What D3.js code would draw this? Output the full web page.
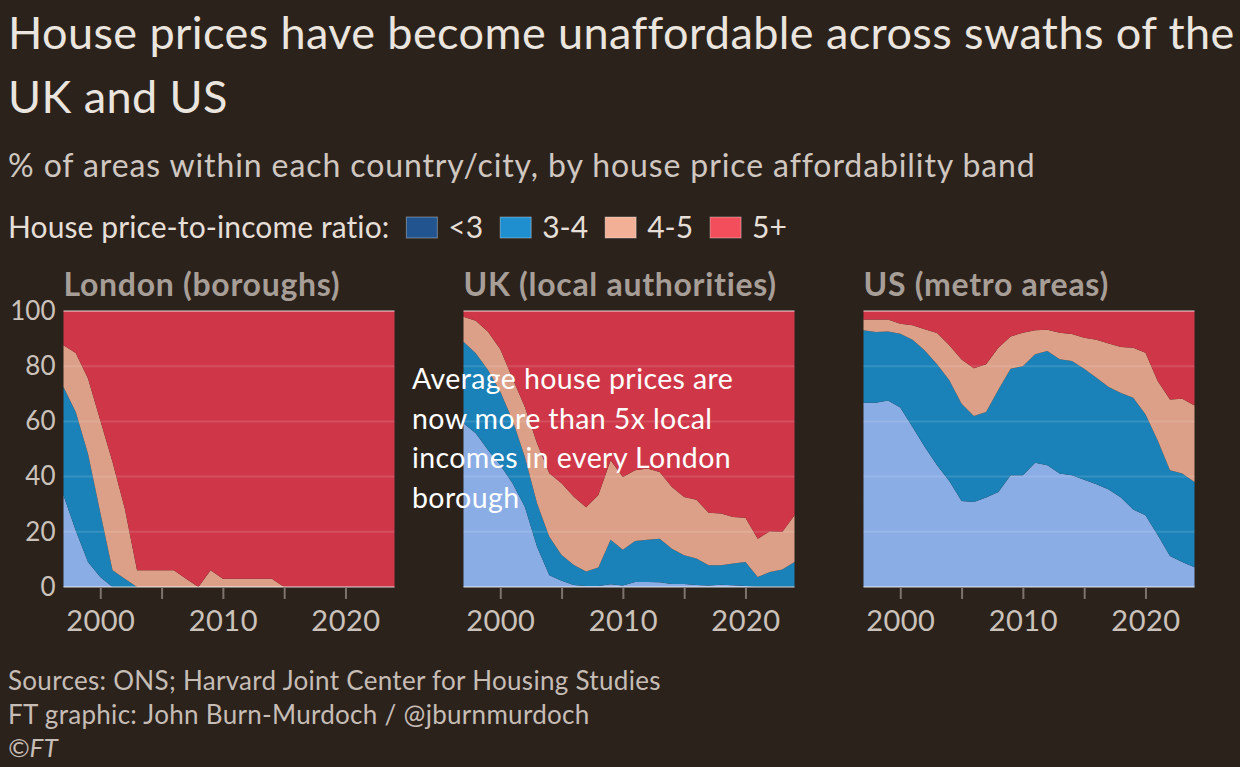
<!DOCTYPE html>
<html>
<head>
<meta charset="utf-8">
<title>House price affordability</title>
<script src="https://cdn.jsdelivr.net/npm/d3@7"></script>
<style>
    body { margin: 0; background: #2b221c; }
    svg text { font-family: Lato, "Open Sans", sans-serif; }
</style>
</head>
<body>
<svg id="chart" width="1240" height="767"></svg>
<script>
// --- data (share of areas in each band, %) ---
const years = [1997, 1998, 1999, 2000, 2001, 2002, 2003, 2004, 2005, 2006, 2007, 2008, 2009, 2010,
               2011, 2012, 2013, 2014, 2015, 2016, 2017, 2018, 2019, 2020, 2021, 2022, 2023, 2024];

const bandKeys = ["<3", "3-4", "4-5", "5+"];

const londonUnder3 = [33.2, 20.5, 9.1, 3.6, 0, 0, 0, 0, 0, 0, 0, 0, 0, 0, 0, 0, 0, 0, 0, 0, 0, 0, 0, 0, 0, 0, 0, 0];
const london3to4   = [39.3, 42.9, 39.2, 23.4, 6.1, 3.0, 0, 0, 0, 0, 0, 0, 0, 0, 0, 0, 0, 0, 0, 0, 0, 0, 0, 0, 0, 0, 0, 0];
const london4to5   = [15.1, 21.4, 27.2, 33.4, 39.2, 25.4, 6.1, 6.1, 6.1, 6.1, 3.0, 0, 6.1, 3.0, 3.0, 3.0, 3.0, 3.0, 0, 0, 0, 0, 0, 0, 0, 0, 0, 0];
const london5plus  = [12.4, 15.2, 24.5, 39.6, 54.7, 71.6, 93.9, 93.9, 93.9, 93.9, 97.0, 100, 93.9, 97.0, 97.0, 97.0, 97.0, 97.0, 100, 100, 100, 100, 100, 100, 100, 100, 100, 100];

const ukUnder3 = [59.3, 55.7, 49.6, 44.2, 37.6, 29.1, 14.6, 4.3, 2.3, 0.7, 0.4, 0.4, 1.0, 0.5, 1.8, 1.8, 1.7, 1.1, 1.1, 0.7, 0.5, 0.8, 0.6, 0.4, 0.1, 0.1, 0.1, 0.1];
const uk3to4   = [29.6, 29.0, 29.0, 26.6, 22.9, 18.1, 15.7, 13.9, 9.3, 7.3, 5.2, 6.7, 16.1, 13.0, 14.9, 15.3, 15.8, 12.8, 10.4, 9.6, 7.4, 7.1, 7.9, 8.7, 3.5, 5.3, 6.2, 9.0];
const uk4to5   = [9.0, 11.8, 13.9, 15.3, 15.1, 18.1, 21.8, 23.0, 26.0, 24.7, 23.3, 26.2, 28.8, 26.4, 25.6, 25.8, 24.2, 22.3, 21.1, 21.3, 19.0, 18.7, 16.9, 16.0, 13.9, 14.8, 13.6, 16.9];
const uk5plus  = [2.1, 3.5, 7.5, 13.9, 24.4, 34.7, 47.9, 58.8, 62.4, 67.3, 71.1, 66.7, 54.1, 60.1, 57.7, 57.1, 58.3, 63.8, 67.4, 68.4, 73.1, 73.4, 74.6, 74.9, 82.5, 79.8, 80.1, 74.0];

const usUnder3 = [66.8, 66.8, 67.6, 65.0, 58.0, 50.7, 44.1, 38.4, 31.2, 30.8, 32.4, 34.4, 40.5, 40.5, 45.0, 44.1, 41.1, 40.5, 38.9, 37.2, 35.3, 32.4, 28.1, 26.0, 18.8, 11.2, 9.1, 7.2];
const us3to4   = [26.2, 25.6, 25.0, 26.8, 31.6, 35.0, 36.6, 36.5, 35.2, 31.2, 31.0, 37.1, 38.6, 39.5, 39.3, 41.4, 41.4, 41.4, 40.2, 38.6, 37.2, 37.9, 40.5, 36.6, 34.3, 31.1, 32.0, 30.8];
const us4to5   = [3.9, 4.5, 4.3, 3.6, 5.2, 7.7, 11.3, 12.7, 16.0, 17.3, 17.3, 15.2, 11.7, 12.1, 8.7, 7.7, 9.6, 9.8, 11.2, 13.8, 15.7, 16.7, 18.1, 22.3, 21.5, 25.6, 27.1, 27.8];
const us5plus  = [3.1, 3.1, 3.1, 4.6, 5.2, 6.6, 8.0, 12.4, 17.6, 20.7, 19.3, 13.3, 9.2, 7.9, 7.0, 6.8, 7.9, 8.3, 9.7, 10.4, 11.8, 13.0, 13.3, 15.1, 25.4, 32.1, 31.8, 34.2];

const panelTitles = ["London (boroughs)", "UK (local authorities)", "US (metro areas)"];
const yTicks = [0, 20, 40, 60, 80, 100];
const xTicks = [2000, 2005, 2010, 2015, 2020];
const xTickLabels = [2000, 2010, 2020];

const annotation = ["Average house prices are", "now more than 5x local", "incomes in every London", "borough"];
const footer = ["Sources: ONS; Harvard Joint Center for Housing Studies",
                "FT graphic: John Burn-Murdoch / @jburnmurdoch"];

// --- styling ---
const areaColors = { "<3": "#8aade5", "3-4": "#1a82b8", "4-5": "#dba087", "5+": "#cf3748" };
const legendColors = { "<3": "#22558f", "3-4": "#1f8fd0", "4-5": "#f2b096", "5+": "#f24e5c" };

const svg = d3.select("#chart");

function buildRows(a, b, c, d) {
    return years.map((yr, i) => ({ year: yr, "<3": a[i], "3-4": b[i], "4-5": c[i], "5+": d[i] }));
}

const panels = [
    { title: panelTitles[0], rows: buildRows(londonUnder3, london3to4, london4to5, london5plus), left: 63.5 },
    { title: panelTitles[1], rows: buildRows(ukUnder3, uk3to4, uk4to5, uk5plus), left: 463.5 },
    { title: panelTitles[2], rows: buildRows(usUnder3, us3to4, us4to5, us5plus), left: 863.5 }
];

const panelWidth = 331, plotTop = 311, plotBottom = 587;
const y = d3.scaleLinear().domain([0, 100]).range([plotBottom, plotTop]);
const stack = d3.stack().keys(bandKeys);

// header
svg.append("text").attr("x", 8).attr("y", 49).attr("font-size", 45).attr("letter-spacing", 0.4)
    .attr("fill", "#ebe5df")
    .text("House prices have become unaffordable across swaths of the");
svg.append("text").attr("x", 8).attr("y", 113).attr("font-size", 45).attr("letter-spacing", 0.4)
    .attr("fill", "#ebe5df")
    .text("UK and US");
svg.append("text").attr("x", 8).attr("y", 177).attr("font-size", 32).attr("letter-spacing", 0.9)
    .attr("fill", "#cfc7c0")
    .text("% of areas within each country/city, by house price affordability band");

// legend
const legend = svg.append("g");
const legendTitle = legend.append("text").attr("x", 8).attr("y", 238).attr("font-size", 30)
    .attr("letter-spacing", 0.1).attr("fill", "#e6dfd8").text("House price-to-income ratio:");
let lx = 8 + legendTitle.node().getComputedTextLength() + 17;
bandKeys.forEach(k => {
    legend.append("rect").attr("x", lx).attr("y", 217).attr("width", 31).attr("height", 21)
        .attr("fill", legendColors[k]).attr("stroke", "rgba(255,255,255,0.35)").attr("stroke-width", 1);
    const t = legend.append("text").attr("x", lx + 42).attr("y", 238).attr("font-size", 30)
        .attr("fill", "#e6dfd8").text(k);
    lx += 42 + t.node().getComputedTextLength() + 17;
});

panels.forEach((p, pi) => {
    const x = d3.scaleLinear().domain([1997, 2024]).range([p.left, p.left + panelWidth]);
    const g = svg.append("g");

    g.append("text").attr("x", p.left).attr("y", 296).attr("font-size", 32).attr("font-weight", 700)
        .attr("letter-spacing", 0.7).attr("fill", "#a79e97").text(p.title);

    const area = d3.area()
        .x(d => x(d.data.year))
        .y0(d => y(d[0]))
        .y1(d => y(d[1]));

    g.selectAll("path.band")
        .data(stack(p.rows))
        .join("path")
        .attr("class", "band")
        .attr("fill", d => areaColors[d.key])
        .attr("d", area);

    // gridlines on top of the areas
    g.selectAll("line.grid")
        .data(yTicks.filter(v => v > 0 && v < 100))
        .join("line")
        .attr("class", "grid")
        .attr("x1", p.left).attr("x2", p.left + panelWidth)
        .attr("y1", d => y(d)).attr("y2", d => y(d))
        .attr("stroke", "#ffffff").attr("stroke-opacity", 0.12).attr("stroke-width", 2);

    g.selectAll("line.edge")
        .data([0, 100])
        .join("line")
        .attr("class", "edge")
        .attr("x1", p.left).attr("x2", p.left + panelWidth)
        .attr("y1", d => y(d)).attr("y2", d => y(d))
        .attr("stroke", "#ffffff").attr("stroke-opacity", 0.55).attr("stroke-width", 1.5);

    // x axis
    const xAxis = g.append("g").attr("transform", `translate(0,${plotBottom + 1})`)
        .call(d3.axisBottom(x).tickValues(xTicks).tickSize(11)
            .tickFormat(d => xTickLabels.includes(d) ? d : ""));
    xAxis.select(".domain").remove();
    xAxis.selectAll(".tick line").attr("stroke", "#7d736c").attr("stroke-width", 2);
    xAxis.selectAll(".tick text").attr("fill", "#cbc2bb").attr("font-size", 29)
        .attr("letter-spacing", 0.5).attr("font-family", "Lato, sans-serif")
        .attr("y", 43).attr("dy", 0);

    if (pi === 0) {
        const yAxis = g.append("g").attr("transform", `translate(${p.left},0)`)
            .call(d3.axisLeft(y).tickValues(yTicks).tickSize(0).tickPadding(8));
        yAxis.select(".domain").remove();
        yAxis.selectAll(".tick text").attr("fill", "#cbc2bb").attr("font-size", 26)
            .attr("font-family", "Lato, sans-serif");
    }
});

// annotation
svg.append("g").selectAll("text")
    .data(annotation)
    .join("text")
    .attr("x", 412)
    .attr("y", (d, i) => 389 + i * 39.6)
    .attr("font-size", 28.5)
    .attr("letter-spacing", 0.4)
    .attr("fill", "#ffffff")
    .text(d => d);

// footer
svg.append("g").selectAll("text")
    .data(footer)
    .join("text")
    .attr("x", 8)
    .attr("y", (d, i) => 690 + i * 33.5)
    .attr("font-size", 26)
    .attr("letter-spacing", 0.3)
    .attr("fill", "#c6bdb6")
    .text(d => d);
svg.append("text").attr("x", 8).attr("y", 757).attr("font-size", 26).attr("font-style", "italic")
    .attr("fill", "#c6bdb6").text("©FT");
</script>
</body>
</html>
